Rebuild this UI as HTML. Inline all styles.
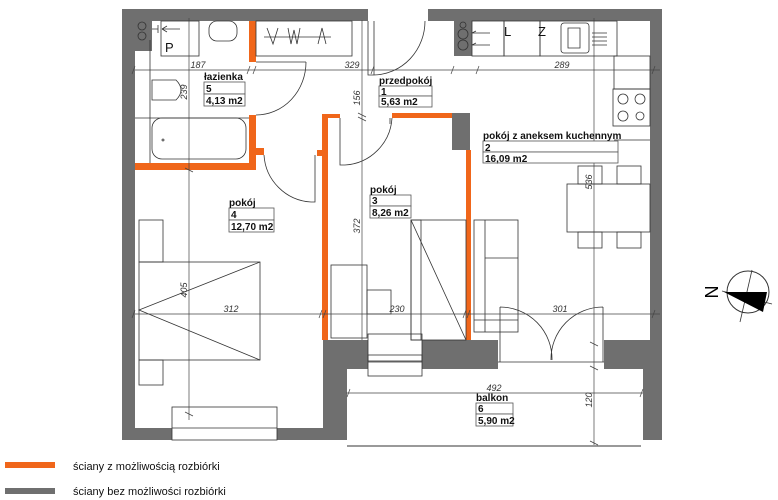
<!DOCTYPE html>
<html><head><meta charset="utf-8"><style>
html,body{margin:0;padding:0;background:#fff;}
svg{display:block}
text{font-family:"Liberation Sans",Arial,sans-serif;}
.lb{font-size:10px;font-weight:bold;fill:#111}
.dm{font-size:9px;font-style:italic;fill:#333}
.g{fill:#6f6f6f}
.o{fill:#f0661a}
.f{fill:none;stroke:#333;stroke-width:0.8}
.d{fill:none;stroke:#444;stroke-width:0.7}
</style></head><body>
<svg width="778" height="500" viewBox="0 0 778 500" xmlns="http://www.w3.org/2000/svg">
<rect class="g" x="122" y="9" width="246" height="12"/>
<rect class="g" x="428" y="9" width="234" height="12"/>
<rect class="g" x="122" y="9" width="13" height="431"/>
<rect class="g" x="650" y="9" width="12" height="331"/>
<rect class="g" x="122" y="428" width="50" height="12"/>
<rect class="g" x="277" y="428" width="70" height="12"/>
<rect class="g" x="323" y="340" width="24" height="100"/>
<rect class="g" x="323" y="340" width="45" height="29"/>
<rect class="g" x="422" y="340" width="76" height="29"/>
<rect class="g" x="604" y="340" width="58" height="29"/>
<rect class="g" x="643" y="369" width="19" height="71"/>
<rect class="g" x="452" y="113" width="18" height="37"/>
<rect class="g" x="454" y="21" width="18" height="35"/>
<rect class="g" x="135" y="21" width="17" height="30"/>
<rect class="o" x="249" y="21" width="7" height="41"/>
<rect class="o" x="249" y="115" width="7" height="55"/>
<rect class="o" x="135" y="163" width="121" height="7"/>
<rect class="o" x="256" y="148" width="8" height="7"/>
<rect class="o" x="322" y="114" width="6" height="226"/>
<rect class="o" x="322" y="114" width="18" height="4"/>
<rect class="o" x="317" y="150" width="5" height="6"/>
<rect class="o" x="392" y="113" width="60" height="5"/>
<rect class="o" x="466" y="150" width="5" height="190"/>
<rect class="f" x="172" y="407" width="105" height="33" fill="#fff"/>
<line class="f" x1="172" y1="428" x2="277" y2="428"/>
<rect class="f" x="368" y="334" width="54" height="27"/>
<rect class="f" x="368" y="355" width="54" height="21" fill="#fff"/>
<line class="f" x1="368" y1="362" x2="422" y2="362"/>
<line x1="347" y1="446" x2="641" y2="446" stroke="#333" stroke-width="1"/>
<line class="f" x1="498" y1="362" x2="604" y2="362"/>
<path class="f" d="M500 307 V362 M500 307 A52 52 0 0 1 552 360 M603 307 V362 M603 307 A52 52 0 0 0 551 360"/>
<path class="f" d="M368 21 V75 H374 V21 M425 21 A52 54 0 0 1 374 75"/>
<path class="f" d="M256 62 H306 M306 62 A50 53 0 0 1 256 115"/>
<path class="f" d="M264 155 A50 50 0 0 0 311 202 M311 202 H315 V155"/>
<path class="f" d="M340 118 V165 H346 M392 118 A50 50 0 0 1 345 165 M390 118 V124"/>
<rect class="f" x="161" y="21" width="38" height="35"/>
<text x="165" y="52" font-size="13" fill="#111">P</text>
<path class="f" d="M152 29 H158 M158 25 V33 M162 29 H180 M162 29 l5 -3 M162 29 l5 3"/>
<circle class="f" cx="142" cy="26" r="4"/><circle class="f" cx="142" cy="36" r="4"/>
<rect class="f" x="209" y="21" width="28" height="20" rx="8"/>
<rect class="f" x="256" y="21" width="96" height="35"/>
<path class="f" d="M264 37 H331 M267 28 l6 16 l5 -16 M288 28 l3 16 l3 -14 l3 14 l3 -16 M318 44 l4 -16 l4 16"/>
<path class="f" d="M152 80 H176 Q186 90 176 100 H152 Z"/>
<rect class="f" x="152" y="118" width="94" height="41" rx="10"/>
<circle class="f" cx="163" cy="140" r="1"/>
<line class="f" x1="150" y1="40" x2="150" y2="163"/>
<line class="f" x1="135" y1="118" x2="249" y2="118"/>
<rect class="f" x="472" y="21" width="32" height="35"/>
<rect class="f" x="504" y="21" width="36" height="35"/>
<rect class="f" x="540" y="21" width="77" height="35"/>
<rect class="f" x="561" y="23" width="28" height="30" rx="3"/>
<path class="f" d="M568 28 h12 v20 h-12 Z M592 33 h15 M592 37 h15 M592 41 h15 M592 45 h15"/>
<text x="504" y="36" font-size="13" fill="#111">L</text>
<text x="538" y="36" font-size="13" fill="#111">Z</text>
<path class="f" d="M472 33 H490 M472 45 H490 M472 33 l4 -2 M472 45 l4 -2"/>
<circle class="f" cx="463" cy="34" r="5"/><circle class="f" cx="463" cy="45" r="5"/><circle class="f" cx="463" cy="25" r="3"/>
<rect class="f" x="614" y="56" width="36" height="33"/>
<rect class="f" x="613" y="89" width="37" height="37"/>
<circle class="f" cx="623" cy="99" r="5"/><circle class="f" cx="640" cy="99" r="5"/><circle class="f" cx="623" cy="116" r="5"/><circle class="f" cx="640" cy="116" r="4"/>
<line class="f" x1="614" y1="140" x2="650" y2="140"/>
<rect class="f" x="567" y="184" width="83" height="48"/>
<rect class="f" x="578" y="166" width="24" height="18"/><rect class="f" x="617" y="166" width="24" height="18"/>
<rect class="f" x="578" y="232" width="24" height="16"/><rect class="f" x="617" y="232" width="24" height="16"/>
<rect class="f" x="474" y="220" width="44" height="112"/>
<line class="f" x1="485" y1="220" x2="485" y2="332"/>
<line class="f" x1="485" y1="258" x2="518" y2="258"/>
<line class="f" x1="474" y1="320" x2="518" y2="320"/>
<rect class="f" x="411" y="220" width="55" height="120"/>
<line class="f" x1="411" y1="220" x2="466" y2="340"/>
<rect class="f" x="411" y="220" width="10" height="120"/>
<rect class="f" x="331" y="265" width="36" height="73"/>
<rect class="f" x="367" y="290" width="24" height="24"/>
<rect class="f" x="139" y="262" width="121" height="98"/>
<path class="f" d="M260 262 L139 310 L260 360"/>
<rect class="f" x="139" y="220" width="24" height="42"/><rect class="f" x="139" y="360" width="24" height="25"/>
<g class="d">
<line x1="135" y1="70" x2="660" y2="70"/>
<line x1="189" y1="18" x2="189" y2="420"/>
<line x1="362" y1="20" x2="362" y2="340"/>
<line x1="135" y1="314" x2="660" y2="314"/>
<line x1="594" y1="18" x2="594" y2="445"/>
<line x1="346" y1="393" x2="643" y2="393"/>
<path d="M135 66 l-3 8 M250 66 l-3 8 M256 66 l-3 8 M374 66 l-3 8 M454 66 l-3 8 M479 66 l-3 8 M655 66 l-3 8 M185 168 l8 4 M358 113 l8 4 M358 117 l8 4 M135 310 l-3 8 M322 310 l-3 8 M326 310 l-3 8 M466 310 l-3 8 M470 310 l-3 8 M655 310 l-3 8 M350 389 l-3 8 M643 389 l-3 8 M590 342 l8 4 M590 366 l8 4 M590 441 l8 4 M185 412 l8 4"/>
</g>
<g class="dm">
<text x="198" y="68" text-anchor="middle">187</text>
<text x="352" y="68" text-anchor="middle">329</text>
<text x="562" y="68" text-anchor="middle">289</text>
<text x="231" y="312" text-anchor="middle">312</text>
<text x="397" y="312" text-anchor="middle">230</text>
<text x="560" y="312" text-anchor="middle">301</text>
<text x="494" y="391" text-anchor="middle">492</text>
<text transform="translate(187,92) rotate(-90)" text-anchor="middle">239</text>
<text transform="translate(187,290) rotate(-90)" text-anchor="middle">405</text>
<text transform="translate(360,98) rotate(-90)" text-anchor="middle">156</text>
<text transform="translate(360,226) rotate(-90)" text-anchor="middle">372</text>
<text transform="translate(592,182) rotate(-90)" text-anchor="middle">536</text>
<text transform="translate(592,400) rotate(-90)" text-anchor="middle">120</text>
</g>
<g>
<rect x="204" y="82" width="41" height="12" fill="#fff" stroke="#555" stroke-width="0.8"/>
<rect x="204" y="94" width="41" height="12" fill="#fff" stroke="#555" stroke-width="0.8"/>
<text class="lb" x="204" y="80">łazienka</text><text class="lb" x="206" y="92">5</text><text class="lb" x="206" y="104">4,13 m2</text>
<rect x="379" y="86" width="53" height="10" fill="#fff" stroke="#555" stroke-width="0.8"/>
<rect x="379" y="96" width="53" height="11" fill="#fff" stroke="#555" stroke-width="0.8"/>
<text class="lb" x="379" y="84">przedpokój</text><text class="lb" x="381" y="95">1</text><text class="lb" x="381" y="105">5,63 m2</text>
<rect x="483" y="141" width="135" height="11" fill="#fff" stroke="#555" stroke-width="0.8"/>
<rect x="483" y="152" width="135" height="11" fill="#fff" stroke="#555" stroke-width="0.8"/>
<text class="lb" x="483" y="139">pokój z aneksem kuchennym</text><text class="lb" x="485" y="151">2</text><text class="lb" x="485" y="162">16,09 m2</text>
<rect x="229" y="208" width="45" height="12" fill="#fff" stroke="#555" stroke-width="0.8"/>
<rect x="229" y="220" width="45" height="12" fill="#fff" stroke="#555" stroke-width="0.8"/>
<text class="lb" x="229" y="206">pokój</text><text class="lb" x="231" y="218">4</text><text class="lb" x="231" y="230">12,70 m2</text>
<rect x="370" y="195" width="41" height="11" fill="#fff" stroke="#555" stroke-width="0.8"/>
<rect x="370" y="206" width="41" height="12" fill="#fff" stroke="#555" stroke-width="0.8"/>
<text class="lb" x="370" y="193">pokój</text><text class="lb" x="372" y="204">3</text><text class="lb" x="372" y="216">8,26 m2</text>
<rect x="476" y="403" width="37" height="11" fill="#fff" stroke="#555" stroke-width="0.8"/>
<rect x="476" y="414" width="37" height="12" fill="#fff" stroke="#555" stroke-width="0.8"/>
<text class="lb" x="476" y="401">balkon</text><text class="lb" x="478" y="412">6</text><text class="lb" x="478" y="424">5,90 m2</text>
</g>
<circle cx="748" cy="292" r="21" fill="none" stroke="#333" stroke-width="1"/>
<line x1="752" y1="270" x2="740" y2="322" stroke="#333" stroke-width="0.8"/>
<line x1="722" y1="291" x2="772" y2="304" stroke="#333" stroke-width="0.8"/>
<path d="M724 292 L767 292 L763 312 Z" fill="#000"/>
<text x="712" y="292" font-size="18" font-family="DejaVu Sans,sans-serif" transform="rotate(-90 712 292)" text-anchor="middle" dy="6" fill="#000">N</text>
<rect x="5" y="462" width="50" height="6" fill="#f0661a"/>
<rect x="5" y="488" width="50" height="6" fill="#6f6f6f"/>
<text x="73" y="470" font-size="11" font-family="DejaVu Sans,sans-serif" fill="#111">ściany z możliwością rozbiórki</text>
<text x="73" y="495" font-size="11" font-family="DejaVu Sans,sans-serif" fill="#111">ściany bez możliwości rozbiórki</text>
</svg>
</body></html>
